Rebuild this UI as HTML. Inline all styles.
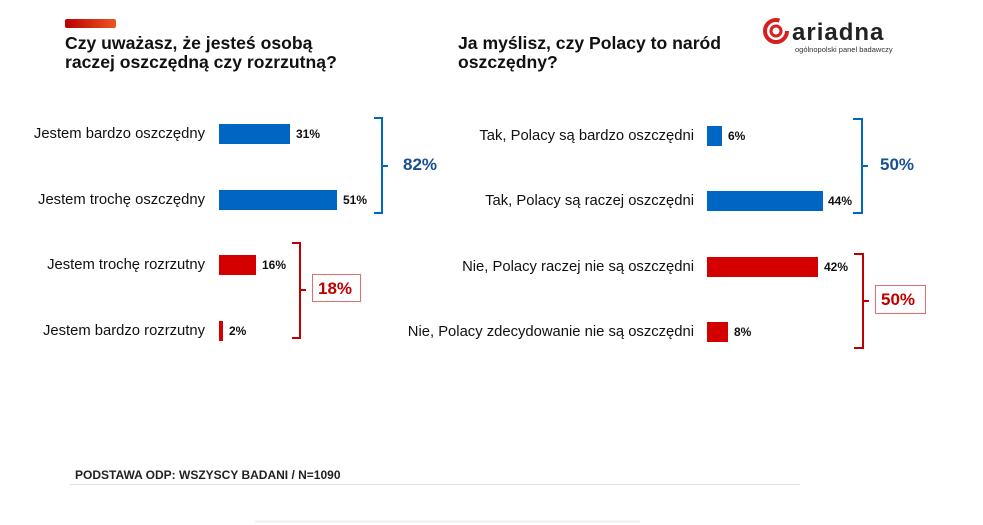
<!DOCTYPE html>
<html><head><meta charset="utf-8"><style>
*{margin:0;padding:0;box-sizing:border-box}
body{width:983px;height:525px;background:#fff;position:relative;overflow:hidden;font-family:"Liberation Sans","DejaVu Sans",sans-serif;color:#111}
.a{position:absolute;white-space:nowrap}
.t{font-weight:bold;font-size:17.6px;line-height:19px;color:#111}
.l{font-size:14.8px;text-align:right;line-height:20px}
.v{font-size:12px;font-weight:bold;line-height:20px}
.b{position:absolute;height:20px}
.bl{background:#0066c4}.rd{background:#d40000}
</style></head><body>
<div class="a" style="left:65px;top:19px;width:51px;height:9px;border-radius:2px;background:linear-gradient(90deg,#b00,#e52);"></div>
<div class="a t" style="left:65px;top:34px">Czy uważasz, że jesteś osobą<br>raczej oszczędną czy rozrzutną?</div>
<div class="a t" style="left:458px;top:34px">Ja myślisz, czy Polacy to naród<br>oszczędny?</div>

<svg class="a" style="left:760px;top:16px" width="150" height="40">
<circle cx="16" cy="15" r="11" fill="none" stroke="#d61f1f" stroke-width="4" stroke-dasharray="55 14"/>
<circle cx="16" cy="15" r="5" fill="none" stroke="#d61f1f" stroke-width="3"/>
<text x="32" y="24" font-family="Liberation Sans,sans-serif" font-size="24" fill="#222" font-weight="bold" letter-spacing="1">ariadna</text>
<text x="35" y="36" font-family="Liberation Sans,sans-serif" font-size="7.5" fill="#333">ogólnopolski panel badawczy</text>
</svg>

<div class="a l" style="right:778px;top:124px">Jestem bardzo oszczędny</div>
<div class="a l" style="right:778px;top:190px">Jestem trochę oszczędny</div>
<div class="a l" style="right:778px;top:255px">Jestem trochę rozrzutny</div>
<div class="a l" style="right:778px;top:321px">Jestem bardzo rozrzutny</div>
<div class="b bl" style="left:219px;top:124px;width:71px"></div>
<div class="b bl" style="left:219px;top:190px;width:118px"></div>
<div class="b rd" style="left:219px;top:255px;width:37px"></div>
<div class="b rd" style="left:219px;top:321px;width:4px"></div>
<div class="a v" style="left:296px;top:124px">31%</div>
<div class="a v" style="left:343px;top:190px">51%</div>
<div class="a v" style="left:262px;top:255px">16%</div>
<div class="a v" style="left:229px;top:321px">2%</div>

<div class="a l" style="right:289px;top:126px">Tak, Polacy są bardzo oszczędni</div>
<div class="a l" style="right:289px;top:191px">Tak, Polacy są raczej oszczędni</div>
<div class="a l" style="right:289px;top:257px">Nie, Polacy raczej nie są oszczędni</div>
<div class="a l" style="right:289px;top:322px">Nie, Polacy zdecydowanie nie są oszczędni</div>
<div class="b bl" style="left:707px;top:126px;width:15px"></div>
<div class="b bl" style="left:707px;top:191px;width:116px"></div>
<div class="b rd" style="left:707px;top:257px;width:111px"></div>
<div class="b rd" style="left:707px;top:322px;width:21px"></div>
<div class="a v" style="left:728px;top:126px">6%</div>
<div class="a v" style="left:828px;top:191px">44%</div>
<div class="a v" style="left:824px;top:257px">42%</div>
<div class="a v" style="left:734px;top:322px">8%</div>

<svg class="a" style="left:0;top:0" width="983" height="525" fill="none" stroke-width="2">
<path d="M374 118 h8 v48 h6 M382 166 v47 h-8" stroke="#0066c4"/>
<path d="M292 243 h8 v47 h6 M300 290 v48 h-8" stroke="#c00000"/>
<path d="M853 119 h9 v47 h6 M862 166 v47 h-9" stroke="#0066c4"/>
<path d="M854 254 h9 v47 h6 M863 301 v47 h-9" stroke="#c00000"/>
<rect x="312.5" y="274.5" width="48" height="27" stroke="#e07070" stroke-width="1"/>
<rect x="875.5" y="285.5" width="50" height="28" stroke="#e07070" stroke-width="1"/>
<line x1="70" y1="484.5" x2="800" y2="484.5" stroke="#ddd" stroke-width="1"/>
<line x1="255" y1="521.5" x2="640" y2="521.5" stroke="#f0f0f0" stroke-width="2"/>
</svg>
<div class="a" style="left:403px;top:155px;font-size:17px;font-weight:bold;color:#1a4f8f">82%</div>
<div class="a" style="left:318px;top:279px;font-size:17px;font-weight:bold;color:#c00000">18%</div>
<div class="a" style="left:880px;top:155px;font-size:17px;font-weight:bold;color:#1a4f8f">50%</div>
<div class="a" style="left:881px;top:290px;font-size:17px;font-weight:bold;color:#c00000">50%</div>
<div class="a" style="left:75px;top:468px;font-size:12px;font-weight:bold;color:#222">PODSTAWA ODP: WSZYSCY BADANI / N=1090</div>
</body></html>
